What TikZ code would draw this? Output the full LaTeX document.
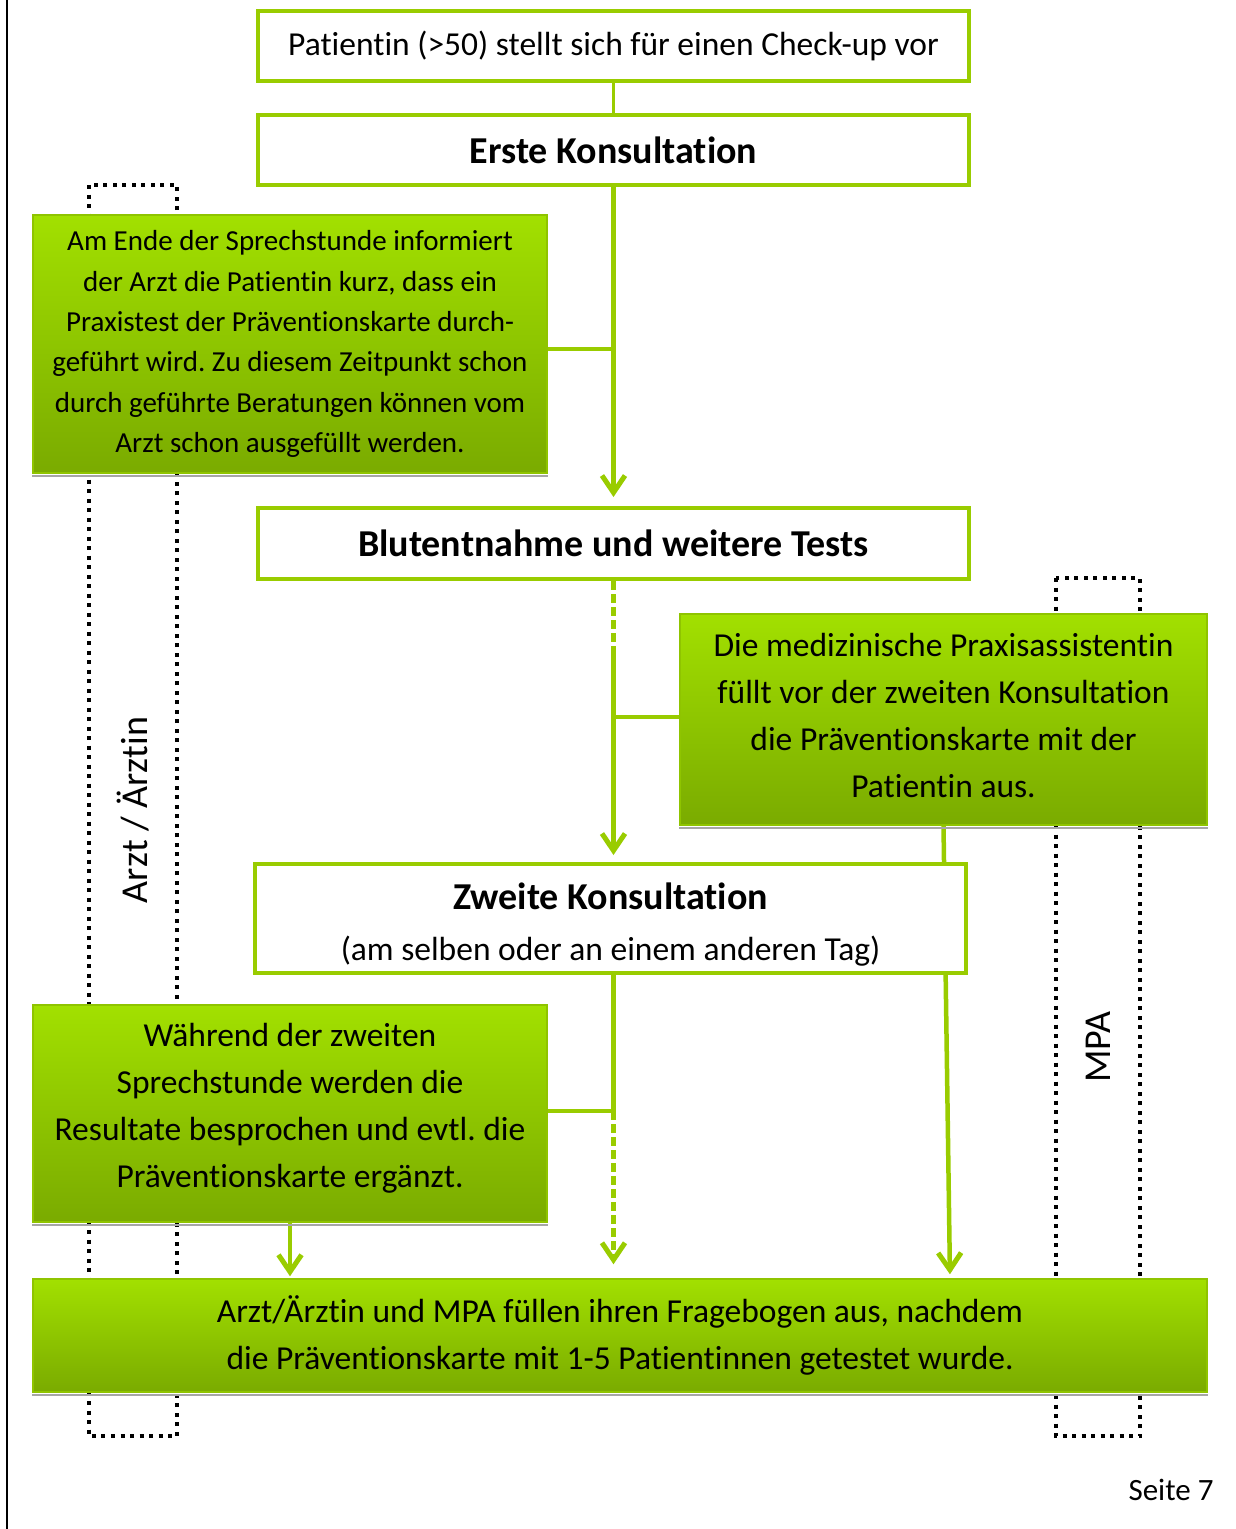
\documentclass[tikz,border=0pt]{standalone}
\usepackage{fontspec}
\setmainfont{Carlito}[Ligatures={CommonOff,ContextualOff}]
\frenchspacing
\usetikzlibrary{arrows.meta,calc}
\definecolor{boxgreen}{HTML}{99CC00}
\definecolor{gtop}{HTML}{A2E000}
\definecolor{gbot}{HTML}{7AAB00}
\definecolor{gedge}{HTML}{8FC400}
\pgfdeclarelayer{bg}
\pgfsetlayers{bg,main}
\begin{document}
\begin{tikzpicture}[x=1pt,y=-1pt,
  stepbox/.style={draw=boxgreen, line width=4pt, fill=white, minimum width=711pt, inner sep=0pt},
  notebox/.style={draw=gedge, line width=1.5pt, top color=gtop, bottom color=gbot,
    inner sep=0pt, align=center, font=\fontsize{33.5}{47}\selectfont},
  link/.style={draw=boxgreen, line width=4.5pt},
  arr/.style={link, -{Straight Barb[length=17pt,width=23pt,line width=5pt]}},
  lane/.style={draw=black, line width=3.5pt, dash pattern=on 4pt off 5.5pt},
  boxshade/.style={draw=gray!70, line width=2.5pt},
  normtext/.style={font=\fontsize{33.5}{40}\selectfont},
  titletext/.style={font=\fontsize{38}{45}\selectfont\bfseries},
]
\useasboundingbox (0,0) rectangle (1235,1529);

% page margin rule
\draw[line width=2pt] (7,0) -- (7,1529);

% process steps
\node[stepbox, minimum height=70pt, normtext] (b1) at (613.5,46)
  {Patientin (>50) stellt sich für einen Check-up vor};
\node[stepbox, minimum height=70pt, titletext] (b2) at (613.5,150) {Erste Konsultation};
\node[stepbox, minimum height=71pt, titletext] (b3) at (613.5,543.5) {Blutentnahme und weitere Tests};
\node[stepbox, minimum height=109pt, align=center, font=\fontsize{33.5}{51}\selectfont] (b4) at (610.5,918.5)
  {\rule{0pt}{38pt}{\fontsize{38}{51}\selectfont\bfseries Zweite Konsultation}\\(am selben oder an einem anderen Tag)};

% notes
\node[notebox, minimum width=514pt, minimum height=258pt, font=\fontsize{29}{40.3}\selectfont] (gA) at (290,344)
  {Am Ende der Sprechstunde informiert\\der Arzt die Patientin kurz, dass ein\\Praxistest der Präventionskarte durch-\\geführt wird. Zu diesem Zeitpunkt schon\\durch geführte Beratungen können vom\\Arzt schon ausgefüllt werden.};
\node[notebox, minimum width=527pt, minimum height=211pt] (gB) at (943.5,719.5)
  {Die medizinische Praxisassistentin\\füllt vor der zweiten Konsultation\\die Präventionskarte mit der\\Patientin aus.\rule[-8pt]{0pt}{0pt}};
\node[notebox, minimum width=514pt, minimum height=217pt] (gC) at (290,1113.5)
  {Während der zweiten\\Sprechstunde werden die\\Resultate besprochen und evtl. die\\Präventionskarte ergänzt.\rule[-17pt]{0pt}{0pt}};
\node[notebox, minimum width=1174pt, minimum height=113pt] (gD) at (620,1335.5)
  {Arzt/Ärztin und MPA füllen ihren Fragebogen aus, nachdem\\die Präventionskarte mit 1-5 Patientinnen getestet wurde.};

\foreach \n in {gA,gB,gC,gD}
  \draw[boxshade] ([yshift=-2pt]\n.south west) -- ([yshift=-2pt]\n.south east);

% lane labels and page number
\node[rotate=90, font=\fontsize{38}{45}\selectfont] (laneA) at (133,810) {Arzt / Ärztin};
\node[rotate=90, font=\fontsize{38}{45}\selectfont] (laneM) at (1098,1047) {MPA};
\node[font=\fontsize{31}{36}\selectfont] (page) at (1171,1490) {Seite 7};

% junction points on the main flow
\coordinate (jA) at (613.5,349);
\coordinate (dA) at (613.5,650);
\coordinate (jB) at (613.5,717);
\coordinate (jC) at (613.5,1111);
\coordinate (eB) at (950,0);

\begin{pgfonlayer}{bg}
  % role lanes
  \draw[lane] (89,185) rectangle (177,1436);
  \draw[lane] (1056,578) rectangle (1140,1436);
  % connectors
  \draw[link, line width=3pt] (b1.south) -- (b2.north);
  \draw[arr, shorten >=9pt] (b2.south) -- (b3.north);
  \draw[link] (gA.east |- jA) -- (jA);
  \draw[link, dash pattern=on 9pt off 4pt] (b3.south) -- (dA);
  \draw[arr, shorten >=7pt] (dA) -- (b4.north -| dA);
  \draw[link] (gB.west |- jB) -- (jB);
  \draw[arr, shorten >=4pt] (gB.south) -- (gD.north -| eB);
  \draw[link] (b4.south -| jC) -- (jC);
  \draw[arr, dash pattern=on 9pt off 4pt, shorten >=14pt] (jC) -- (gD.north -| jC);
  \draw[link] (gC.east |- jC) -- (jC);
  \draw[arr, shorten >=2pt] (gC.south) -- (gD.north -| gC.south);
\end{pgfonlayer}
\end{tikzpicture}
\end{document}
